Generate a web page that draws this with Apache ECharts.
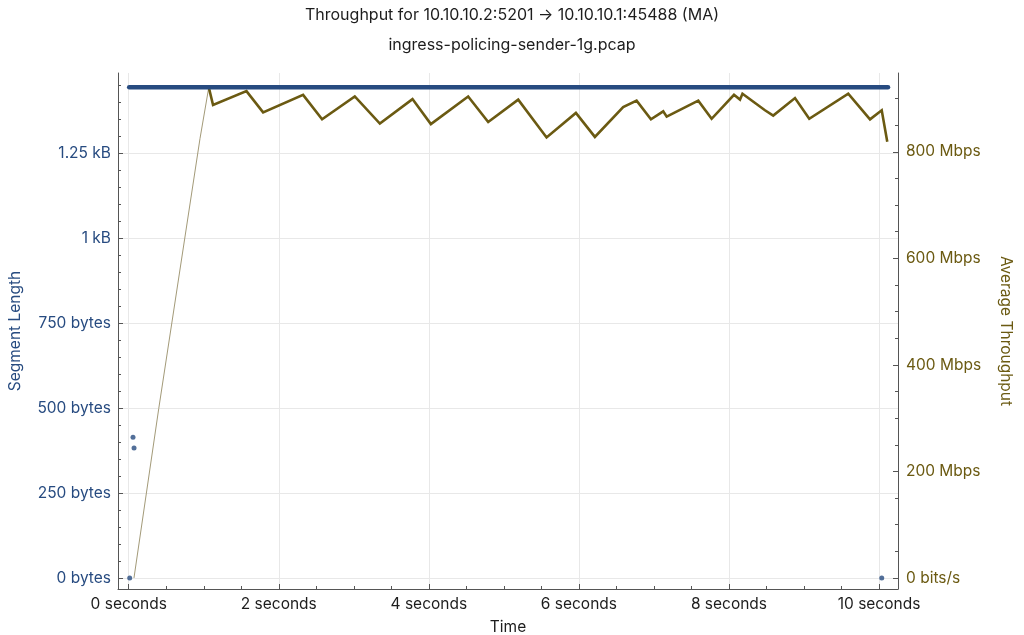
<!DOCTYPE html>
<html><head><meta charset="utf-8">
<script src="https://cdn.jsdelivr.net/npm/echarts@6/dist/echarts.min.js"></script>
<style>html,body{margin:0;padding:0;background:#fff}#c{width:1024px;height:635px}</style>
</head><body><div id="c"></div>
<script>
// ---- tick labels ----
const xMajorTicks = [0, 2, 4, 6, 8, 10];
const xMinorTicks = [0, 0.5, 1, 1.5, 2, 2.5, 3, 3.5, 4, 4.5, 5, 5.5, 6, 6.5, 7, 7.5, 8, 8.5, 9, 9.5, 10];
const segMajorTicks = [0, 250, 500, 750, 1000, 1250];
const segMinorTicks = [0, 50, 100, 150, 200, 250, 300, 350, 400, 450, 500, 550, 600, 650, 700, 750, 800, 850, 900, 950, 1000, 1050, 1100, 1150, 1200, 1250, 1300, 1350, 1400, 1450];
const tputMajorTicks = [0, 200, 400, 600, 800];
const tputMinorTicks = [0, 50, 100, 150, 200, 250, 300, 350, 400, 450, 500, 550, 600, 650, 700, 750, 800, 850, 900];

// ---- segment length (bytes) ----
// dense band of full-size segments
const segBandTime = [0.006, 10.12];
const segBandLen = [1443, 1443];
// isolated segments
const segDotTime = [0.013, 0.057, 0.071, 10.036];
const segDotLen = [0, 414, 382, 0];

// ---- average throughput (Mbps) ----
const rampTime = [0.07, 0.40, 0.95, 1.067];
const rampMbps = [0, 318, 825, 921];
const tputTime = [1.067, 1.124, 1.569, 1.791, 2.324, 2.577, 3.013, 3.347, 3.782, 4.027, 4.524, 4.791, 5.191, 5.569, 5.960, 6.213, 6.59, 6.769, 6.960, 7.124, 7.170, 7.591, 7.769, 8.067, 8.147, 8.18, 8.48, 8.59, 8.88, 9.07, 9.59, 9.88, 10.036, 10.11];
const tputMbps = [921, 888, 914, 874, 907, 861, 904, 853, 899, 852, 904, 856, 898, 827, 873, 828, 884, 896, 861, 876, 866, 896, 862, 907, 898, 909, 878, 868, 901, 862, 909, 861, 878, 819];

const zip = (a, b) => a.map((v, i) => [v, b[i]]);

const BLUE = '#274b80';
const OLIVE = '#6b5a12';
const AXIS = '#555555';
const FONT = 'Inter';
const LBL = 15.5;

const chart = echarts.init(document.getElementById('c'), null, { renderer: 'canvas' });

const segFmt = v => v === 0 ? '0 bytes' : (v < 1000 ? v + ' bytes' : (v / 1000) + ' kB');
const tputFmt = v => v === 0 ? '0 bits/s' : v + ' Mbps';

chart.setOption({
  animation: false,
  backgroundColor: '#fff',
  textStyle: { fontFamily: FONT },
  title: [
    { text: 'Throughput for 10.10.10.2:5201 \u2192 10.10.10.1:45488 (MA)', left: 'center', top: 2,
      textStyle: { fontFamily: FONT, fontSize: 16, fontWeight: 'normal', color: '#1d1d1d' } },
    { text: 'ingress-policing-sender-1g.pcap', left: 'center', top: 32,
      textStyle: { fontFamily: FONT, fontSize: 16, fontWeight: 'normal', color: '#1d1d1d' } }
  ],
  grid: { left: 118, right: 126, top: 73, bottom: 46, containLabel: false, outerBoundsMode: 'none' },
  xAxis: [
    { type: 'value', min: -0.143, max: 10.253, position: 'bottom',
      name: 'Time', nameLocation: 'middle', nameGap: 30,
      nameTextStyle: { fontFamily: FONT, fontSize: LBL, color: '#1d1d1d' },
      axisLine: { show: true, onZero: false, lineStyle: { color: AXIS, width: 1 } },
      axisTick: { show: true, inside: true, length: 5, customValues: xMajorTicks, lineStyle: { color: AXIS } },
      axisLabel: { customValues: xMajorTicks, formatter: v => v + ' seconds', margin: 7,
        fontFamily: FONT, fontSize: LBL, color: '#1d1d1d' },
      splitLine: { show: true, lineStyle: { color: '#e8e8e8', width: 1 } }
    },
    { type: 'value', min: -0.143, max: 10.253, position: 'bottom',
      axisLine: { show: false, onZero: false },
      axisTick: { show: true, inside: true, length: 3, customValues: xMinorTicks, lineStyle: { color: AXIS } },
      axisLabel: { show: false }, splitLine: { show: false }
    }
  ],
  yAxis: [
    { type: 'value', min: -32.4, max: 1485, position: 'left',
      name: 'Segment Length', nameLocation: 'middle', nameGap: 95, nameRotate: 90,
      nameTextStyle: { fontFamily: FONT, fontSize: LBL, color: BLUE },
      axisLine: { show: true, onZero: false, lineStyle: { color: AXIS, width: 1 } },
      axisTick: { show: true, inside: true, length: 5, customValues: segMajorTicks, lineStyle: { color: AXIS } },
      axisLabel: { customValues: segMajorTicks, formatter: segFmt, margin: 7,
        fontFamily: FONT, fontSize: LBL, color: BLUE },
      splitLine: { show: true, lineStyle: { color: '#e8e8e8', width: 1 } }
    },
    { type: 'value', min: -32.4, max: 1485, position: 'left',
      axisLine: { show: false, onZero: false },
      axisTick: { show: true, inside: true, length: 3, customValues: segMinorTicks, lineStyle: { color: AXIS } },
      axisLabel: { show: false }, splitLine: { show: false }
    },
    { type: 'value', min: -20.7, max: 948, position: 'right',
      name: 'Average Throughput', nameLocation: 'middle', nameGap: 100, nameRotate: -90,
      nameTextStyle: { fontFamily: FONT, fontSize: LBL, color: OLIVE },
      axisLine: { show: true, onZero: false, lineStyle: { color: AXIS, width: 1 } },
      axisTick: { show: true, inside: true, length: 5, customValues: tputMajorTicks, lineStyle: { color: AXIS } },
      axisLabel: { customValues: tputMajorTicks, formatter: tputFmt, margin: 8,
        fontFamily: FONT, fontSize: LBL, color: OLIVE },
      splitLine: { show: false }
    },
    { type: 'value', min: -20.7, max: 948, position: 'right',
      axisLine: { show: false, onZero: false },
      axisTick: { show: true, inside: true, length: 3, customValues: tputMinorTicks, lineStyle: { color: AXIS } },
      axisLabel: { show: false }, splitLine: { show: false }
    }
  ],
  series: [
    { name: 'Average Throughput ramp', type: 'line', xAxisIndex: 0, yAxisIndex: 2,
      data: zip(rampTime, rampMbps), symbol: 'none', z: 2,
      lineStyle: { color: '#a39a78', width: 1 } },
    { name: 'Average Throughput', type: 'line', xAxisIndex: 0, yAxisIndex: 2,
      data: zip(tputTime, tputMbps), symbol: 'none', z: 2,
      lineStyle: { color: OLIVE, width: 2.6, join: 'miter' } },
    { name: 'Segment Length', type: 'line', xAxisIndex: 0, yAxisIndex: 0,
      data: zip(segBandTime, segBandLen), symbol: 'none', z: 3,
      lineStyle: { color: BLUE, width: 4.5, cap: 'round' } },
    { name: 'Segment Length dots', type: 'scatter', xAxisIndex: 0, yAxisIndex: 0,
      data: zip(segDotTime, segDotLen), symbolSize: 5, z: 3,
      itemStyle: { color: BLUE } }
  ]
});
</script>
</body></html>
